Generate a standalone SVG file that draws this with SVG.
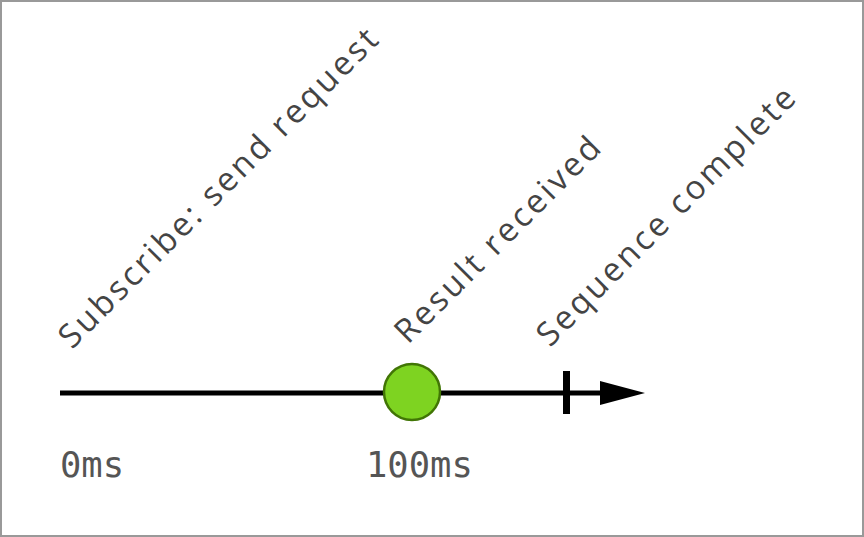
<svg xmlns="http://www.w3.org/2000/svg" width="864" height="537" viewBox="0 0 864 537">
<style>
.lbl{font-family:"Open Sans","Noto Sans",sans-serif;font-size:33px;letter-spacing:3px;fill:#444}
.time{font-family:"DejaVu Sans Mono",monospace;font-size:35.5px;fill:#555}
</style>
<rect x="1" y="1" width="862" height="535" fill="#fff" stroke="#999" stroke-width="2"/>
<g id="connectors">
<line x1="60" y1="393" x2="605" y2="393" stroke="#000" stroke-width="5"/>
<polygon points="600,381 645,393 600,405" fill="#000"/>
</g>
<g id="start">
<text class="lbl" transform="translate(72,350) rotate(-45)">Subscribe: send request</text>
<text class="time" x="60" y="477">0ms</text>
</g>
<g id="result">
<circle cx="412" cy="392" r="28" fill="#7ed321" stroke="#417505" stroke-width="2.5"/>
<text class="lbl" transform="translate(408,345) rotate(-45)">Result received</text>
<text class="time" x="366" y="477">100ms</text>
</g>
<g id="complete">
<rect x="563" y="371" width="7" height="43" fill="#000"/>
<text class="lbl" transform="translate(550,348) rotate(-45)">Sequence complete</text>
</g>
</svg>
